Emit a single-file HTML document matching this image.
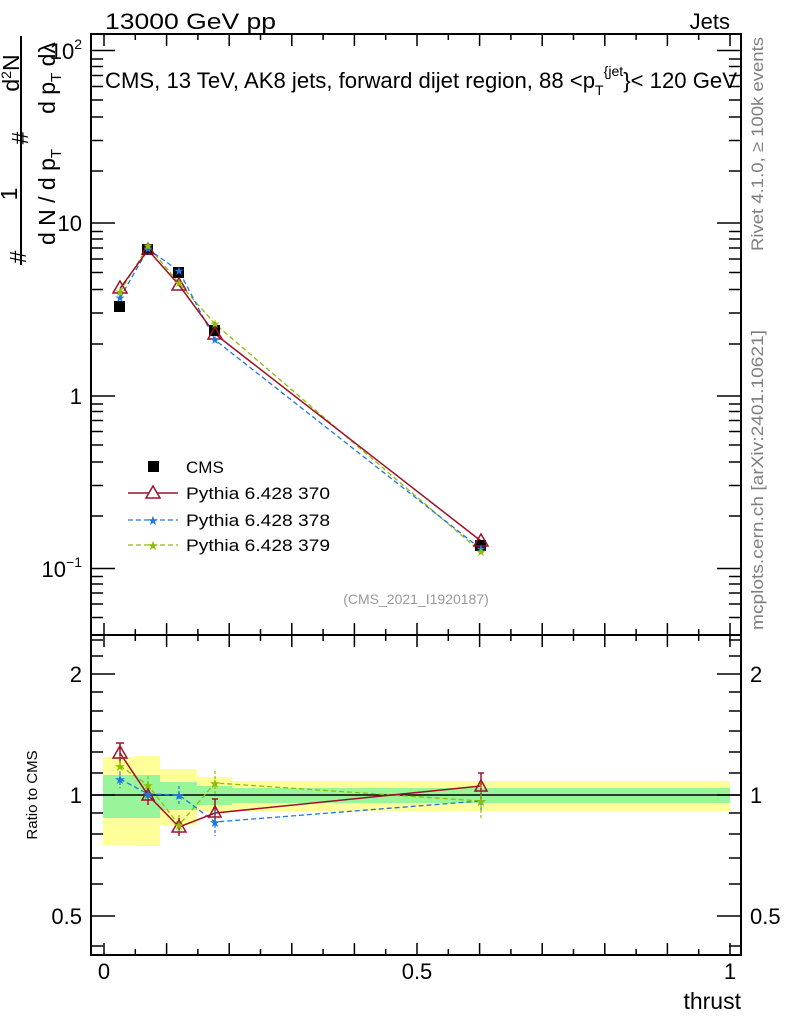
<!DOCTYPE html>
<html><head><meta charset="utf-8"><style>
html,body{margin:0;padding:0;background:#fff;}
svg{display:block;font-family:"Liberation Sans",sans-serif;}
</style></head><body>
<svg width="786" height="1024" viewBox="0 0 786 1024" xmlns="http://www.w3.org/2000/svg">
<rect width="786" height="1024" fill="#fff"/>
<text x="105" y="29" font-size="22" textLength="171" lengthAdjust="spacingAndGlyphs">13000 GeV pp</text>
<text x="730" y="29" font-size="22" text-anchor="end">Jets</text>

<g>
<rect x="103" y="757" width="32" height="88" fill="#ffff99"/>
<rect x="135" y="756" width="25" height="90" fill="#ffff99"/>
<rect x="160" y="769" width="37" height="56" fill="#ffff99"/>
<rect x="197" y="777" width="35" height="34" fill="#ffff99"/>
<rect x="232" y="781" width="498" height="30" fill="#ffff99"/>
<rect x="103" y="775" width="57" height="43" fill="#99f599"/>
<rect x="160" y="782" width="37" height="28" fill="#99f599"/>
<rect x="197" y="786" width="35" height="19" fill="#99f599"/>
<rect x="232" y="788" width="498" height="15" fill="#99f599"/>
<line x1="91" y1="795" x2="741" y2="795" stroke="#000" stroke-width="1.5"/>
</g>

<rect x="91" y="34" width="650" height="601" fill="none" stroke="#000" stroke-width="2"/>
<rect x="91" y="635" width="650" height="320" fill="none" stroke="#000" stroke-width="2"/>

<g stroke="#000" stroke-width="1.5">
<path d="M104 34v12M135.3 34v6M166.6 34v12M197.9 34v6M229.2 34v12M260.5 34v6M291.8 34v12M323.1 34v6M354.4 34v12M385.7 34v6M417 34v12M448.3 34v6M479.6 34v12M510.9 34v6M542.2 34v12M573.5 34v6M604.8 34v12M636.1 34v6M667.4 34v12M698.7 34v6M730 34v12"/>
<path d="M104 635v-12M135.3 635v-6M166.6 635v-12M197.9 635v-6M229.2 635v-12M260.5 635v-6M291.8 635v-12M323.1 635v-6M354.4 635v-12M385.7 635v-6M417 635v-12M448.3 635v-6M479.6 635v-12M510.9 635v-6M542.2 635v-12M573.5 635v-6M604.8 635v-12M636.1 635v-6M667.4 635v-12M698.7 635v-6M730 635v-12"/>
<path d="M104 635v12M135.3 635v6M166.6 635v12M197.9 635v6M229.2 635v12M260.5 635v6M291.8 635v12M323.1 635v6M354.4 635v12M385.7 635v6M417 635v12M448.3 635v6M479.6 635v12M510.9 635v6M542.2 635v12M573.5 635v6M604.8 635v12M636.1 635v6M667.4 635v12M698.7 635v6M730 635v12"/>
<path d="M104 955v-12M135.3 955v-6M166.6 955v-12M197.9 955v-6M229.2 955v-12M260.5 955v-6M291.8 955v-12M323.1 955v-6M354.4 955v-12M385.7 955v-6M417 955v-12M448.3 955v-6M479.6 955v-12M510.9 955v-6M542.2 955v-12M573.5 955v-6M604.8 955v-12M636.1 955v-6M667.4 955v-12M698.7 955v-6M730 955v-12"/>
</g>

<g stroke="#000" stroke-width="1.5">
<path d="M91 50.5h24M91 223h24M91 396h24M91 568.5h24M741 50.5h-24M741 223h-24M741 396h-24M741 568.5h-24"/>
<path d="M91 59h12M91 66.5h12M91 75.5h12M91 86.5h12M91 100h12M91 117h12M91 140.5h12M91 171h12
M91 231.5h12M91 239h12M91 248h12M91 259h12M91 272.5h12M91 289.5h12M91 313h12M91 344h12
M91 404h12M91 411.5h12M91 420.5h12M91 431.5h12M91 445h12M91 462h12M91 485.5h12M91 516h12
M91 576.5h12M91 584h12M91 593h12M91 604h12M91 617.5h12"/>
<path d="M741 59h-12M741 66.5h-12M741 75.5h-12M741 86.5h-12M741 100h-12M741 117h-12M741 140.5h-12M741 171h-12
M741 231.5h-12M741 239h-12M741 248h-12M741 259h-12M741 272.5h-12M741 289.5h-12M741 313h-12M741 344h-12
M741 404h-12M741 411.5h-12M741 420.5h-12M741 431.5h-12M741 445h-12M741 462h-12M741 485.5h-12M741 516h-12
M741 576.5h-12M741 584h-12M741 593h-12M741 604h-12M741 617.5h-12"/>
</g>
<g stroke="#000" stroke-width="1.5">
<path d="M91 674h24M91 795h24M91 916h24M741 674h-24M741 795h-24M741 916h-24"/>
<path d="M91 640h12M91 656h12M91 692h12M91 711h12M91 731h12M91 752h12M91 773h12M91 813h12M91 834h12M91 858h12M91 884h12M91 946h12"/>
<path d="M741 640h-12M741 656h-12M741 692h-12M741 711h-12M741 731h-12M741 752h-12M741 773h-12M741 813h-12M741 834h-12M741 858h-12M741 884h-12M741 946h-12"/>
</g>

<g font-size="22" text-anchor="end">
<text x="82" y="59">10<tspan font-size="14" dy="-10">2</tspan></text>
<text x="82" y="231">10</text>
<text x="82" y="404">1</text>
<text x="82" y="577">10<tspan font-size="14" dy="-10">−1</tspan></text>
<text x="82" y="682">2</text>
<text x="82" y="803">1</text>
<text x="82" y="924">0.5</text>
</g>
<g font-size="22">
<text x="750" y="682">2</text>
<text x="750" y="803">1</text>
<text x="750" y="924">0.5</text>
</g>
<g font-size="22" text-anchor="middle">
<text x="104" y="979">0</text>
<text x="417" y="979">0.5</text>
<text x="730" y="979">1</text>
</g>
<text x="741" y="1009" font-size="23" text-anchor="end">thrust</text>
<text transform="translate(37,795) rotate(-90)" font-size="15" text-anchor="middle">Ratio to CMS</text>

<g font-size="23">
<line x1="21" y1="36" x2="21" y2="265" stroke="#000" stroke-width="2"/>
<text transform="translate(26,257) rotate(-90)" text-anchor="middle">#</text>
<text transform="translate(17,194) rotate(-90)" text-anchor="middle">1</text>
<text transform="translate(55,197) rotate(-90)" text-anchor="middle">d N / d p<tspan font-size="15" dy="6">T</tspan></text>
<text transform="translate(28,138) rotate(-90)" text-anchor="middle">#</text>
<text transform="translate(19,73) rotate(-90)" text-anchor="middle">d<tspan font-size="14" dy="-8">2</tspan><tspan dy="8">N</tspan></text>
<text transform="translate(55,78) rotate(-90)" text-anchor="middle">d p<tspan font-size="15" dy="6">T</tspan><tspan dy="-6"> dλ</tspan></text>
</g>

<text x="105" y="88" font-size="22" textLength="632" lengthAdjust="spacingAndGlyphs">CMS, 13 TeV, AK8 jets, forward dijet region, 88 &lt;p<tspan font-size="14" dy="7">T</tspan><tspan font-size="14" dy="-19">{jet</tspan><tspan dy="12">}&lt; 120 GeV</tspan></text>

<text transform="translate(763,251) rotate(-90)" font-size="17" fill="#808080" textLength="214" lengthAdjust="spacingAndGlyphs">Rivet 4.1.0, ≥ 100k events</text>
<text transform="translate(763,630) rotate(-90)" font-size="17" fill="#808080" textLength="300" lengthAdjust="spacingAndGlyphs">mcplots.cern.ch [arXiv:2401.10621]</text>
<text x="416" y="604" font-size="14" fill="#999" text-anchor="middle">(CMS_2021_I1920187)</text>

<polyline points="120,292 148,246 179,283 215,324 481,552" fill="none" stroke="#8fbf00" stroke-width="1.3" stroke-dasharray="5,3"/>
<polyline points="120,298 148,249 179,271 215,340 481,549" fill="none" stroke="#1f77e0" stroke-width="1.3" stroke-dasharray="5,3"/>
<polyline points="120,288.5 148,250 179,285 215,334 481,541" fill="none" stroke="#a0102a" stroke-width="1.5"/>
<g fill="#000">
<rect x="114" y="301" width="11" height="11"/>
<rect x="142" y="244" width="11" height="11"/>
<rect x="173" y="267" width="11" height="11"/>
<rect x="209" y="325" width="11" height="11"/>
<rect x="475" y="540" width="11" height="11"/>
</g>
<g fill="none" stroke="#a0102a" stroke-width="1.5">
<path d="M120 281l7 12h-14z"/><path d="M148 243l6 11h-12z"/><path d="M179 278l7 12h-14z"/><path d="M215 327l7 12h-14z"/><path d="M481 534l7 12h-14z"/>
</g>
<g fill="#1f77e0" font-size="12" text-anchor="middle">
<text x="120" y="302">★</text><text x="148" y="253">★</text><text x="179" y="275">★</text><text x="215" y="344">★</text><text x="481" y="553">★</text>
</g>
<g fill="#8fbf00" font-size="12" text-anchor="middle">
<text x="120" y="296">★</text><text x="148" y="250">★</text><text x="179" y="287">★</text><text x="215" y="328">★</text><text x="481" y="556">★</text>
</g>

<rect x="148" y="461" width="11" height="11" fill="#000"/>
<text x="186" y="473" font-size="17">CMS</text>
<line x1="128" y1="493" x2="178" y2="493" stroke="#a0102a" stroke-width="1.5"/>
<path d="M153 486l7 12h-14z" fill="#fff" stroke="#a0102a" stroke-width="1.5"/>
<text x="186" y="499" font-size="17" textLength="144" lengthAdjust="spacingAndGlyphs">Pythia 6.428 370</text>
<line x1="128" y1="520" x2="178" y2="520" stroke="#1f77e0" stroke-width="1.3" stroke-dasharray="5,3"/>
<text x="153" y="525" font-size="13" fill="#1f77e0" text-anchor="middle">★</text>
<text x="186" y="526" font-size="17" textLength="144" lengthAdjust="spacingAndGlyphs">Pythia 6.428 378</text>
<line x1="128" y1="545" x2="178" y2="545" stroke="#8fbf00" stroke-width="1.3" stroke-dasharray="5,3"/>
<text x="153" y="550" font-size="13" fill="#8fbf00" text-anchor="middle">★</text>
<text x="186" y="551" font-size="17" textLength="144" lengthAdjust="spacingAndGlyphs">Pythia 6.428 379</text>

<polyline points="120,766 148,785 179,825 215,783 481,801" fill="none" stroke="#8fbf00" stroke-width="1.3" stroke-dasharray="5,3"/>
<polyline points="120,779 148,794 179,795 215,822 481,801" fill="none" stroke="#1f77e0" stroke-width="1.3" stroke-dasharray="5,3"/>
<polyline points="120,753 148,795 179,827 215,813 481,786" fill="none" stroke="#a0102a" stroke-width="1.5"/>
<g stroke="#a0102a" stroke-width="1.5">
<path d="M120 743v20M116 743h8M148 785v20M179 818v18M215 799v22M212 799h6M481 773v26M478 773h6"/>
</g>
<g stroke="#1f77e0" stroke-width="1.2" stroke-dasharray="3,2">
<path d="M120 772v16M148 786v16M179 786v18M215 810v26M481 792v20"/>
</g>
<g stroke="#8fbf00" stroke-width="1.2" stroke-dasharray="3,2">
<path d="M120 756v16M148 776v18M179 815v20M215 771v24M481 780v40"/>
</g>
<g fill="none" stroke="#a0102a" stroke-width="1.5">
<path d="M120 746l7 12h-14z"/><path d="M148 789l6 11h-12z"/><path d="M179 820l7 12h-14z"/><path d="M215 806l6 11h-12z"/><path d="M481 780l6 11h-12z"/>
</g>
<g fill="#1f77e0" font-size="13" text-anchor="middle">
<text x="120" y="784">★</text><text x="148" y="799">★</text><text x="179" y="800">★</text><text x="215" y="827">★</text><text x="481" y="806">★</text>
</g>
<g fill="#8fbf00" font-size="13" text-anchor="middle">
<text x="120" y="771">★</text><text x="148" y="790">★</text><text x="179" y="830">★</text><text x="215" y="788">★</text><text x="481" y="806">★</text>
</g>
</svg>
</body></html>
